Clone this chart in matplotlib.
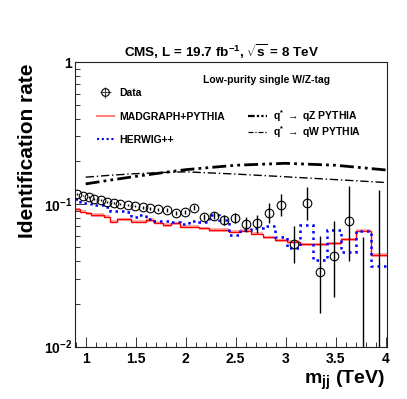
import numpy as np
import matplotlib
matplotlib.use("Agg")
import matplotlib.pyplot as plt
from matplotlib.lines import Line2D
from matplotlib.ticker import FixedLocator, LogLocator, NullFormatter, MultipleLocator

plt.rcParams['font.family'] = ['Liberation Sans', 'DejaVu Sans']
plt.rcParams['font.weight'] = 'bold'
plt.rcParams['mathtext.fontset'] = 'custom'
plt.rcParams['mathtext.rm'] = 'Liberation Sans:bold'
plt.rcParams['mathtext.bf'] = 'Liberation Sans:bold'
plt.rcParams['mathtext.it'] = 'Liberation Sans:bold'

# ---- data ----
bin_edges = [0.890, 0.944, 1.000, 1.058, 1.118, 1.181, 1.246, 1.313, 1.383, 1.455,
             1.530, 1.607, 1.687, 1.770, 1.856, 1.945, 2.037, 2.132, 2.231, 2.332,
             2.438, 2.546, 2.659, 2.775, 2.895, 3.019, 3.147, 3.279, 3.416, 3.558,
             3.704, 3.854, 4.010]

data_rate = [0.118, 0.115, 0.112, 0.109, 0.107, 0.104, 0.1026, 0.100, 0.0988, 0.0972,
             0.0952, 0.0937, 0.0921, 0.0911, 0.0873, 0.0887, 0.0946, 0.081, 0.0827, 0.0775,
             0.0796, 0.0723, 0.0734, 0.0864, 0.0988, 0.0526, 0.1016, 0.0332, 0.0433, 0.0762,
             0.0, 0.0]
data_err_up = [0.0015, 0.0015, 0.0015, 0.0015, 0.0015, 0.0015, 0.0016, 0.0017, 0.0018, 0.0019,
               0.002, 0.0022, 0.0024, 0.0026, 0.0028, 0.003, 0.0038, 0.004, 0.0048, 0.006,
               0.0068, 0.0095, 0.0105, 0.015, 0.019, 0.018, 0.030, 0.027, 0.033, 0.058,
               0.0585, 0.126]
data_err_dn = [0.0015, 0.0015, 0.0015, 0.0015, 0.0015, 0.0015, 0.0016, 0.0017, 0.0018, 0.0019,
               0.002, 0.0022, 0.0024, 0.0026, 0.0028, 0.003, 0.0036, 0.0038, 0.0045, 0.0055,
               0.0058, 0.0083, 0.0103, 0.0126, 0.0157, 0.0142, 0.024, 0.016, 0.021, 0.036,
               0.0, 0.0]

madgraph_rate = [0.092, 0.0886, 0.0864, 0.084, 0.084, 0.0818, 0.0754, 0.0784, 0.0784, 0.0754,
                 0.0754, 0.0775, 0.0742, 0.0715, 0.0734, 0.0695, 0.0695, 0.0677, 0.0659, 0.0659,
                 0.0641, 0.0650, 0.0620, 0.0586, 0.0560, 0.0545, 0.0523, 0.0523, 0.0531, 0.0567,
                 0.0652, 0.0440]

herwig_rate = [0.1083, 0.1025, 0.1025, 0.0988, 0.0988, 0.0961, 0.0901, 0.0901, 0.0886, 0.0818,
               0.084, 0.0784, 0.0768, 0.0768, 0.0754, 0.0727, 0.0762, 0.0748, 0.084, 0.0775,
               0.0607, 0.0659, 0.0677, 0.0704, 0.0586, 0.0490, 0.0715, 0.0405, 0.0659, 0.0464,
               0.0652, 0.0369]

sig_mass = [1.0, 1.25, 1.5, 1.75, 2.0, 2.5, 3.0, 3.5, 4.01]
qZ_rate = [0.139, 0.148, 0.157, 0.166, 0.175, 0.188, 0.194, 0.188, 0.174]
qW_rate = [0.155, 0.160, 0.164, 0.167, 0.169, 0.163, 0.156, 0.149, 0.142]

# ---- figure ----
W, H = 407, 399
fig = plt.figure(figsize=(W / 100, H / 100), dpi=100)
L, R, T, B = 74.7, 386.5, 62, 346.5
ax = fig.add_axes([L / W, 1 - B / H, (R - L) / W, (B - T) / H])

edges = np.array(bin_edges)
centers = 0.5 * (edges[:-1] + edges[1:])
drate = np.array(data_rate)
mrate = np.array(madgraph_rate)
hrate = np.array(herwig_rate)

ymin, ymax = 0.01, 1.0

# MadGraph band + line
ax.fill_between(edges, np.append(mrate, mrate[-1]) * 0.975, np.append(mrate, mrate[-1]) * 1.025,
                step='post', color='#ff9a9a', alpha=0.8, lw=0, zorder=2)
ax.stairs(mrate, edges, color='#ff0000', lw=1.0, baseline=None, zorder=3)
# Herwig
ax.stairs(hrate, edges, color='#0000ff', lw=1.8, linestyle=(0, (1, 1.6)), baseline=None, zorder=3)

# signal curves
ax.plot(sig_mass, qZ_rate, color='black', lw=2.0, linestyle=(0, (5, 1.5, 1, 1.5, 1, 1.5)), zorder=4)
ax.plot(sig_mass, qW_rate, color='black', lw=1.0, linestyle=(0, (6, 2, 1, 2)), zorder=4)

# data
nz = drate > 0
ax.errorbar(centers[nz], drate[nz],
            yerr=[np.array(data_err_dn)[nz], np.array(data_err_up)[nz]],
            fmt='o', mfc='none', mec='black', ms=6.2, mew=0.8,
            ecolor='black', elinewidth=1.0, capsize=0, zorder=5)
ax.vlines(centers[~nz], ymin * 0.5, drate[~nz] + np.array(data_err_up)[~nz],
          color='black', lw=1.0, zorder=5)

ax.set_xlim(edges[0], edges[-1])
ax.set_ylim(ymin, ymax)
ax.set_yscale('log')

ax.xaxis.set_major_locator(FixedLocator([1, 1.5, 2, 2.5, 3, 3.5, 4]))
ax.xaxis.set_minor_locator(MultipleLocator(0.1))
ax.set_xticklabels(['1', '1.5', '2', '2.5', '3', '3.5', '4'])
ax.yaxis.set_major_locator(FixedLocator([0.01, 0.1, 1]))
ax.set_yticklabels([r'$10^{-2}$', r'$10^{-1}$', '1'])
ax.yaxis.set_minor_locator(LogLocator(base=10, subs=np.arange(2, 10)))
ax.yaxis.set_minor_formatter(NullFormatter())

ax.tick_params(which='both', direction='in', top=False, right=False,
               labelsize=10, width=0.7, color='#333333')
ax.tick_params(which='major', length=7, pad=4)
ax.tick_params(which='minor', length=3.5)
ax.tick_params(axis='y', pad=2)
for sp in ax.spines.values():
    sp.set_linewidth(0.8)
    sp.set_color('#222222')

fig.text(385 / W, 1 - 380 / H, r'm$_{\mathbf{jj}}$ (TeV)', ha='right', va='center',
         fontsize=14, fontweight='bold')
fig.text(28 / W, 1 - 151 / H, 'Identification rate', ha='center', va='center',
         rotation=90, fontsize=15, fontweight='bold')
fig.text(222 / W, 1 - 52 / H, r'CMS, L = 19.7 fb$^{-1}$, $\sqrt{s}$ = 8 TeV',
         ha='center', va='center', fontsize=9.7, fontweight='bold')
fig.text(203 / W, 1 - 80 / H, 'Low-purity single W/Z-tag', ha='left', va='center',
         fontsize=7.5, fontweight='bold')

# legends
data_proxy = ax.errorbar([np.nan], [np.nan], xerr=[1], yerr=[1], fmt='o', mfc='none',
                         mec='black', ms=5.5, mew=0.8, ecolor='#444444', elinewidth=0.8)
mg_proxy = Line2D([], [], color='#ff8080', lw=1.5)
hw_proxy = Line2D([], [], color='#0000ff', lw=1.5, linestyle=(0, (1, 1.3)))
leg1 = ax.legend([data_proxy, mg_proxy, hw_proxy], ['Data', 'MADGRAPH+PYTHIA', 'HERWIG++'],
                 loc='upper left', bbox_to_anchor=(97 / W, 1 - 88 / H),
                 bbox_transform=fig.transFigure, frameon=False,
                 prop={'size': 7.5, 'weight': 'bold'}, handlelength=1.6,
                 handletextpad=0.5, labelspacing=1.3, borderpad=0, borderaxespad=0)
ax.add_artist(leg1)
qz_proxy = Line2D([], [], color='black', lw=1.6, linestyle=(0, (3, 1, 1, 1, 1, 1)))
qw_proxy = Line2D([], [], color='black', lw=0.9, linestyle=(0, (4, 1.5, 1, 1.5)))
leg2 = ax.legend([qz_proxy, qw_proxy],
                 [r'q$^{*}$ $\rightarrow$ qZ PYTHIA', r'q$^{*}$ $\rightarrow$ qW PYTHIA'],
                 loc='upper left', bbox_to_anchor=(248 / W, 1 - 108 / H),
                 bbox_transform=fig.transFigure, frameon=False,
                 prop={'size': 7.5, 'weight': 'bold'}, handlelength=1.8,
                 handletextpad=0.6, labelspacing=0.05, borderpad=0, borderaxespad=0)

fig.savefig('out.png', dpi=100)
